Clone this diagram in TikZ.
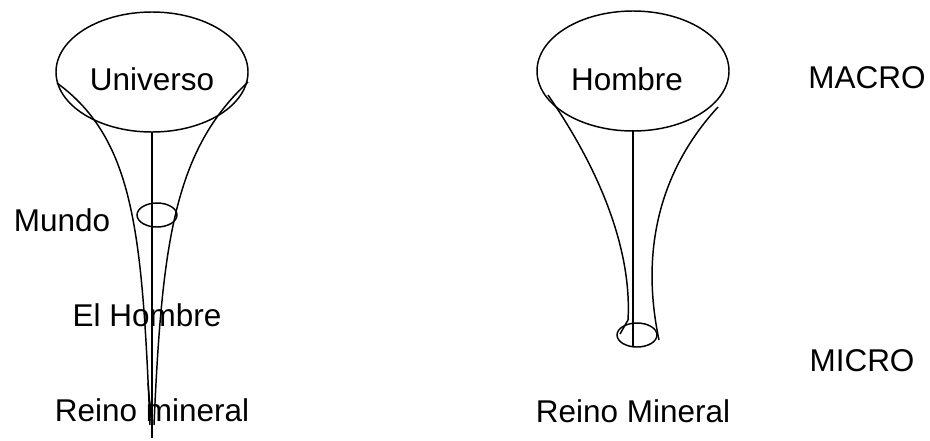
\documentclass[tikz,border=0pt]{standalone}
\usepackage{fontspec}
\setmainfont{Liberation Sans}
\usepackage{tikz}

\begin{document}
\begin{tikzpicture}[x=0.75pt, y=-0.75pt, line width=1.1pt,
        every node/.style={inner sep=0pt, font=\fontsize{23.6}{28}\selectfont},
        bigring/.style={x radius=96, y radius=60},
        smallring/.style={x radius=20, y radius=12}]
        \useasboundingbox (0,0) rectangle (930,440);

        % left funnel
        \coordinate (U) at (152,72);
        \coordinate (M) at (157,215);
        \draw (U) ellipse [bigring];
        \draw (M) ellipse [smallring];
        \node (Ut) at (152,79) {Universo};
        \node (Mt) at (62,220) {Mundo};
        \node (Et) at (147,315) {El Hombre};
        \node (Rt) at (152,410) {Reino mineral};
        \coordinate (Us) at (152,132);
        \coordinate (UL) at (57,83);
        \coordinate (UR) at (248,82);
        \coordinate (Ub) at (152,438);
        \coordinate (L1) at (150,425);
        \coordinate (L2) at (154,425);

        \draw (Us) -- (Ub);
        \draw (UL) .. controls (135,140) and (142,235) .. (L1);
        \draw (UR) .. controls (175,150) and (162,240) .. (L2);
        \draw (148,383) -- (151,418) -- (152,395);

        % right funnel
        \coordinate (H) at (633,71);
        \coordinate (m) at (637,335);
        \draw (H) ellipse [bigring];
        \draw (m) ellipse [smallring];
        \node (Ht) at (627,79) {Hombre};
        \node (Rm) at (633,411) {Reino Mineral};
        \node (MA) at (867,78) {MACRO};
        \node (MI) at (862,361) {MICRO};
        \coordinate (Hs) at (633,130);
        \coordinate (ms) at (633,347);
        \coordinate (HL) at (548,95);
        \coordinate (HR) at (718,107);
        \coordinate (HL2) at (628,320);
        \coordinate (HL3) at (620,334);
        \coordinate (HR2) at (659,340);

        \draw (Hs) -- (ms);
        \draw (HL) .. controls (600,170) and (632,250) .. (HL2) -- (HL3);
        \draw (HR) .. controls (660,170) and (640,250) .. (HR2);
    \end{tikzpicture}
\end{document}
